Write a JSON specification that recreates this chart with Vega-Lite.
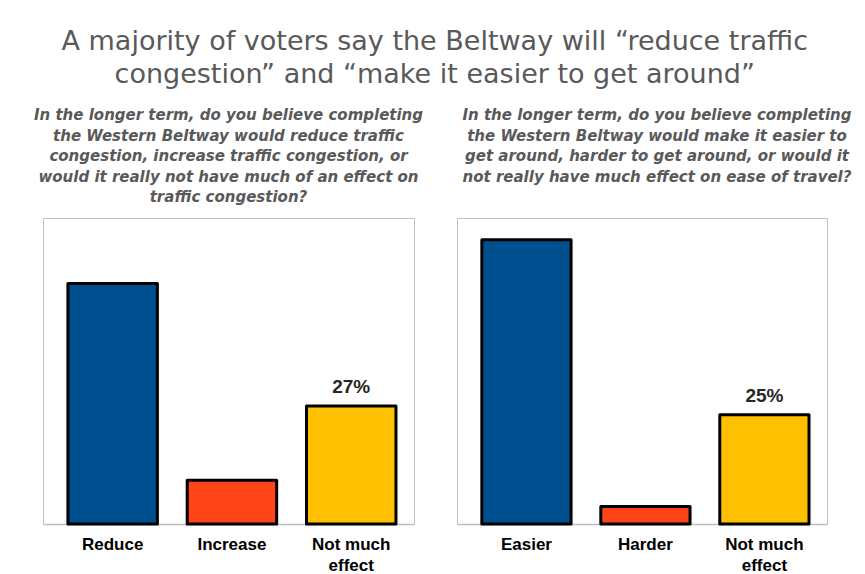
{
  "$schema": "https://vega.github.io/schema/vega-lite/v6.json",
  "background": "white",
  "padding": {"left": 33, "top": 27, "right": 0, "bottom": 0},
  "bounds": "flush",
  "title": {
    "text": ["A majority of voters say the Beltway will “reduce traffic", "congestion” and “make it easier to get around”"],
    "font": "DejaVu Sans",
    "fontSize": 27,
    "fontWeight": "normal",
    "color": "#595959",
    "lineHeight": 33,
    "anchor": "middle",
    "dx": -8,
    "offset": 19
  },
  "datasets": {
    "survey": [
      {"panel": "traffic", "answer": "Reduce", "pct": 0.55},
      {"panel": "traffic", "answer": "Increase", "pct": 0.10},
      {"panel": "traffic", "answer": "Not much effect", "pct": 0.27},
      {"panel": "ease", "answer": "Easier", "pct": 0.65},
      {"panel": "ease", "answer": "Harder", "pct": 0.04},
      {"panel": "ease", "answer": "Not much effect", "pct": 0.25}
    ]
  },
  "spacing": 43,
  "config": {
    "view": {"stroke": "#c0c0c0", "strokeWidth": 1},
    "axisX": {
      "domainColor": "#bfbfbf",
      "domainWidth": 1.5,
      "ticks": false,
      "grid": false,
      "labelAngle": 0,
      "labelFont": "Liberation Sans",
      "labelFontSize": 17,
      "labelFontWeight": "bold",
      "labelColor": "#000000",
      "labelPadding": 12,
      "labelLineHeight": 21,
      "labelExpr": "datum.value == 'Not much effect' ? ['Not much', 'effect'] : datum.value"
    }
  },
  "hconcat": [
    {
      "width": 371,
      "height": 306,
      "title": {
        "text": [
          "In the longer term, do you believe completing",
          "the Western Beltway would reduce traffic",
          "congestion, increase traffic congestion, or",
          "would it really not have much of an effect on",
          "traffic congestion?"
        ],
        "font": "DejaVu Sans",
        "fontSize": 15,
        "fontStyle": "italic",
        "fontWeight": "bold",
        "color": "#595959",
        "lineHeight": 20.5,
        "anchor": "middle",
        "offset": 13
      },
      "data": {"name": "survey"},
      "transform": [{"filter": "datum.panel == 'traffic'"}],
      "encoding": {
        "x": {"field": "answer", "type": "nominal", "sort": null, "title": null,
              "scale": {"paddingInner": 0.25, "paddingOuter": 0.18, "align": 0.58}},
        "y": {"field": "pct", "type": "quantitative", "scale": {"domain": [0, 0.7]}, "axis": null}
      },
      "layer": [
        {
          "mark": {"type": "bar", "stroke": "#000000", "strokeWidth": 3, "strokeJoin": "round"},
          "encoding": {
            "color": {"field": "answer", "type": "nominal", "legend": null,
              "scale": {"domain": ["Reduce", "Increase", "Not much effect", "Easier", "Harder"],
                        "range": ["#00508f", "#ff4517", "#ffc000", "#00508f", "#ff4517"]}}
          }
        },
        {
          "transform": [{"filter": "datum.answer == 'Not much effect'"}],
          "mark": {"type": "text", "baseline": "bottom", "dy": -9, "font": "Liberation Sans", "fontSize": 19, "fontWeight": "bold", "color": "#262626"},
          "encoding": {"text": {"field": "pct", "type": "quantitative", "format": ".0%"}}
        }
      ]
    },
    {
      "width": 370,
      "height": 306,
      "title": {
        "text": [
          "In the longer term, do you believe completing",
          "the Western Beltway would make it easier to",
          "get around, harder to get around, or would it",
          "not really have much effect on ease of travel?",
          " "
        ],
        "font": "DejaVu Sans",
        "fontSize": 15,
        "fontStyle": "italic",
        "fontWeight": "bold",
        "color": "#595959",
        "lineHeight": 20.5,
        "anchor": "middle",
        "dx": 15,
        "offset": 13
      },
      "data": {"name": "survey"},
      "transform": [{"filter": "datum.panel == 'ease'"}],
      "encoding": {
        "x": {"field": "answer", "type": "nominal", "sort": null, "title": null,
              "scale": {"paddingInner": 0.25, "paddingOuter": 0.18, "align": 0.58}},
        "y": {"field": "pct", "type": "quantitative", "scale": {"domain": [0, 0.7]}, "axis": null}
      },
      "layer": [
        {
          "mark": {"type": "bar", "stroke": "#000000", "strokeWidth": 3, "strokeJoin": "round"},
          "encoding": {
            "color": {"field": "answer", "type": "nominal", "legend": null,
              "scale": {"domain": ["Reduce", "Increase", "Not much effect", "Easier", "Harder"],
                        "range": ["#00508f", "#ff4517", "#ffc000", "#00508f", "#ff4517"]}}
          }
        },
        {
          "transform": [{"filter": "datum.answer == 'Not much effect'"}],
          "mark": {"type": "text", "baseline": "bottom", "dy": -9, "font": "Liberation Sans", "fontSize": 19, "fontWeight": "bold", "color": "#262626"},
          "encoding": {"text": {"field": "pct", "type": "quantitative", "format": ".0%"}}
        }
      ]
    }
  ]
}
